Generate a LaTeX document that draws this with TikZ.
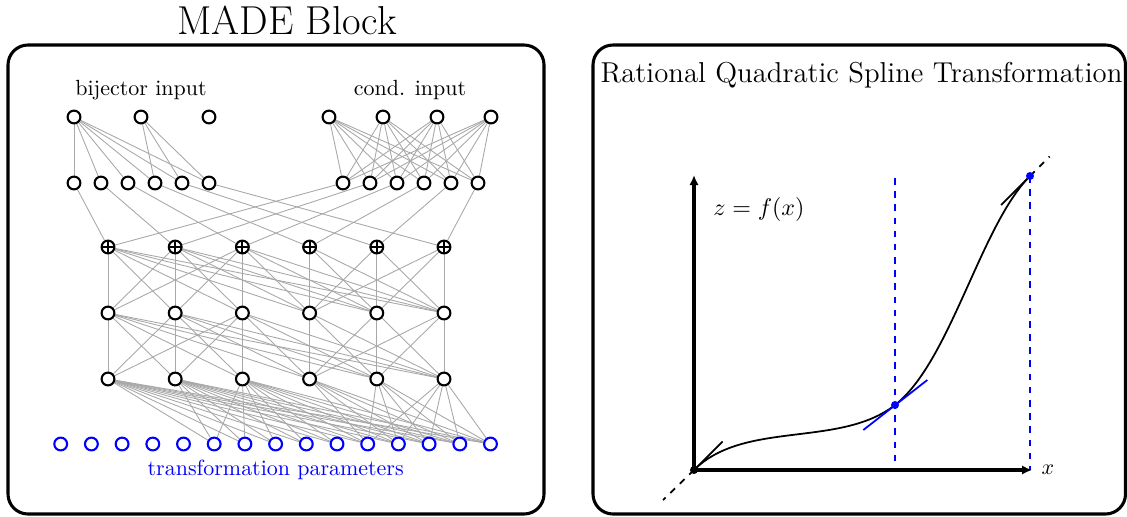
\documentclass[tikz,border=0pt]{standalone}
\usepackage{amsmath, amssymb}
\usepackage{xcolor}
\usetikzlibrary{arrows.meta, backgrounds}
\definecolor{wire-gray}{HTML}{A8A8A8}
\definecolor{param-blue}{HTML}{0000FF}

\begin{document}
\begin{tikzpicture}[x=0.016cm, y=0.016cm,
        every node/.style={font=\normalsize},
        unit/.style={circle, draw, line width=0.95pt, fill=white,
            minimum size=0.205cm, inner sep=0pt},
        sumunit/.style={unit, path picture={
            \draw[line width=0.95pt] (path picture bounding box.north) -- (path picture bounding box.south)
                         (path picture bounding box.west) -- (path picture bounding box.east);}},
        param/.style={unit, draw=param-blue},
        wire/.style={draw=wire-gray, line width=0.4pt},
        panel/.style={line width=1.4pt, rounded corners=0.32cm},
        axis/.style={line width=1.4pt, -{Latex[length=1.6mm, width=1.5mm]}}]
      \useasboundingbox (0,0) rectangle (1127,516);
      \draw[panel] (8,2) rectangle (544,471);
      \draw[panel] (593,2) rectangle (1125.5,471);
      \node[font=\fontsize{18.4}{22}\selectfont] (MADE) at (287,496) {MADE Block};
      \node[font=\fontsize{13.1}{16}\selectfont] (RQS) at (861.5,441) {Rational Quadratic Spline Transformation};
      \node (BIJLBL) at (141,426) {bijector input};
      \node (CNDLBL) at (410,426) {cond. input};
      \node[text=param-blue] (PARLBL) at (275.7,46) {transformation parameters};
      \foreach \i/\x in {1/74, 2/141, 3/209}
        \node[unit] (BIJ\i) at (\x,399) {};
      \foreach \i/\x in {1/329, 2/383, 3/437, 4/491}
        \node[unit] (CND\i) at (\x,399) {};
      \foreach \i in {1,...,6} {
        \node[unit] (L\i) at ({74+27*(\i-1)},333) {};
        \node[unit] (R\i) at ({343+27*(\i-1)},333) {};
        \node[sumunit] (S\i) at ({108+67.2*(\i-1)},269) {};
        \node[unit] (HA\i) at ({108+67.2*(\i-1)},203) {};
        \node[unit] (HB\i) at ({108+67.2*(\i-1)},137) {};
      }
      \foreach \i in {1,...,15}
        \node[param] (P\i) at ({60.7+30.7*(\i-1)},72) {};
      \begin{scope}[on background layer]
        \foreach \j in {1,...,6} \draw[wire] (BIJ1) -- (L\j);
        \foreach \j in {4,5,6} \draw[wire] (BIJ2) -- (L\j);
        \foreach \i in {1,...,4} \foreach \j in {1,...,6} \draw[wire] (CND\i) -- (R\j);
        \foreach \j in {1,...,6} \draw[wire] (L\j) -- (S\j) (R\j) -- (S\j);
        \foreach \i in {1,2,3} \foreach \j in {1,...,6}
          \draw[wire] (S\i) -- (HA\j) (HA\i) -- (HB\j);
        \foreach \i in {4,5,6} \foreach \j in {4,5,6}
          \draw[wire] (S\i) -- (HA\j) (HA\i) -- (HB\j);
        \foreach \i in {1,2,3} \foreach \j in {6,...,15} \draw[wire] (HB\i) -- (P\j);
        \foreach \i in {4,5,6} \foreach \j in {11,...,15} \draw[wire] (HB\i) -- (P\j);
      \end{scope}
      \coordinate (O) at (694,46);
      \coordinate (M) at (895,111);
      \coordinate (T) at (1030,340);
      \coordinate (YTOP) at (694,341);
      \coordinate (XEND) at (1032,46);
      \coordinate (MTOP) at (895,338);
      \coordinate (MBOT) at (895,46);
      \coordinate (TBOT) at (1030,46);
      \coordinate (TAILLO) at (663,16);
      \coordinate (TAILHI) at (1049.5,359.5);
      \draw[thick, dashed] (O) -- (TAILLO);
      \draw[thick, dashed] (T) -- (TAILHI);
      \draw[thick, dashed, param-blue] (MTOP) -- (MBOT);
      \draw[thick, dashed, param-blue] (T) -- (TBOT);
      \draw[axis] (O) -- (YTOP);
      \draw[axis] (O) -- (XEND);
      \node (XLBL) at (1048,46) {$x$};
      \node[font=\fontsize{10.8}{13}\selectfont] (ZLBL) at (759,307) {$z = f(x)$};
      \draw[thick] (O) .. controls (744,96) and (839.8,67.9) .. (M)
                       .. controls (950.2,154.1) and (980.5,290.5) .. (T);
      \draw[thick] (O) -- (722.5,74.5);
      \draw[thick] (T) -- (1001,311);
      \draw[thick, param-blue] (863.3,86) -- (927.3,136);
      \fill (O) circle (4);
      \fill[param-blue] (M) circle (4);
      \fill[param-blue] (T) circle (4);
    \end{tikzpicture}
\end{document}
